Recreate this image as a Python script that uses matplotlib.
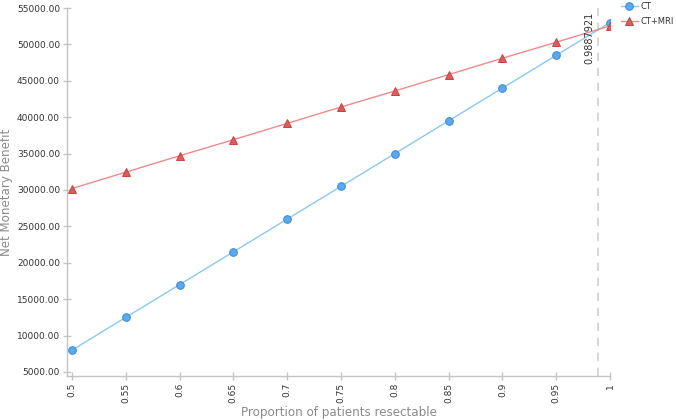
import numpy as np
import matplotlib
matplotlib.use("Agg")
import matplotlib.pyplot as plt

# proportion of patients resectable
prop = [0.5, 0.55, 0.6, 0.65, 0.7, 0.75, 0.8, 0.85, 0.9, 0.95, 1.0]
ct = [8000, 12500, 17000, 21500, 26000, 30500, 35000, 39500, 44000, 48500, 53000]
ct_mri = [30200, 32450, 34700, 36900, 39150, 41400, 43600, 45850, 48100, 50300, 52550]
threshold = 0.9887921

x_ticks = [0.5, 0.55, 0.6, 0.65, 0.7, 0.75, 0.8, 0.85, 0.9, 0.95, 1.0]
x_labels = ["0.5", "0.55", "0.6", "0.65", "0.7", "0.75", "0.8", "0.85", "0.9", "0.95", "1"]
y_ticks = np.arange(5000, 55001, 5000)

axis_col = "#c4c4c4"
tick_col = "#333333"
title_col = "#8a8a8a"

fig = plt.figure(figsize=(6.76, 4.2), dpi=100)
ax = fig.add_axes([67/676, 44/420, (610-67)/676, (376-8)/420])

ax.plot(prop, ct, color="#8cc8f4", lw=1, marker="o", ms=5.5,
        mfc="#5aaaf0", mec="#3a88d0", mew=0.7, label="CT", zorder=3)
ax.plot(prop, ct_mri, color="#f08a8a", lw=1, marker="^", ms=6,
        mfc="#e05c5c", mec="#c04444", mew=0.7, label="CT+MRI", zorder=3)

ax.axvline(threshold, color="#d0d0d0", lw=1.2, ls=(0, (5, 4)), zorder=1)
ax.text(threshold - 0.003, 54500, f"{threshold:.7f}", rotation=90,
        ha="right", va="top", fontsize=7, color=tick_col)

ax.set_xlim(0.4954, 1.0)
ax.set_ylim(4450, 55000)
ax.set_xticks(x_ticks)
ax.set_xticklabels(x_labels, rotation=90)
ax.set_yticks(y_ticks)
ax.set_yticklabels([f"{v:.2f}" for v in y_ticks])

for s in ["top", "right"]:
    ax.spines[s].set_visible(False)
for s in ["left", "bottom"]:
    ax.spines[s].set_color(axis_col)
    ax.spines[s].set_linewidth(1)
ax.tick_params(colors=axis_col, labelcolor=tick_col, labelsize=6.5,
               direction="inout", length=6, width=1, pad=2)

ax.set_xlabel("Proportion of patients resectable", fontsize=8.6, color=title_col, labelpad=2)
ax.set_ylabel("Net Monetary Benefit", fontsize=8.6, color=title_col)
ax.yaxis.set_label_coords(-0.099, 0.5)

ax.legend(loc="upper left", bbox_to_anchor=(1.02, 1.017), frameon=False,
          fontsize=6, handlelength=2.0, handletextpad=0.3, labelspacing=0.8,
          borderaxespad=0, borderpad=0, labelcolor=tick_col)

fig.savefig("out.png", dpi=100)
